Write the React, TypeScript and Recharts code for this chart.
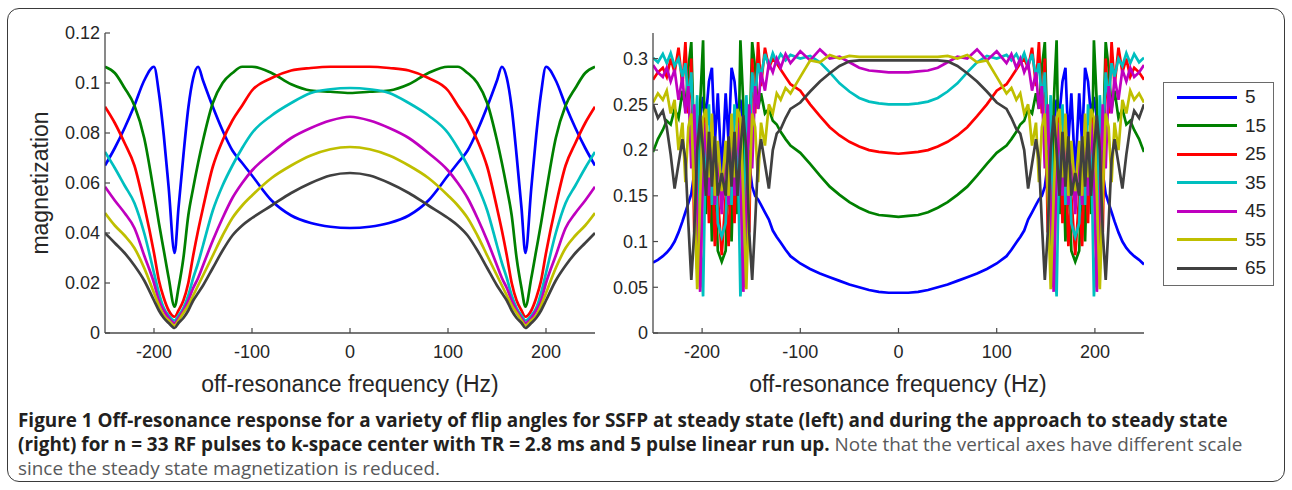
import { LineChart, Line, XAxis, YAxis, Legend } from 'recharts'

const FLIP_ANGLES = ['5', '15', '25', '35', '45', '55', '65']
const COLORS = ['#0000ff', '#008000', '#ff0000', '#00bfbf', '#bf00bf', '#bfbf00', '#404040']
const FREQ_TICKS = [-200, -100, 0, 100, 200]
const LEFT_Y_TICKS = [0, 0.02, 0.04, 0.06, 0.08, 0.1, 0.12]
const RIGHT_Y_TICKS = [0, 0.05, 0.1, 0.15, 0.2, 0.25, 0.3]

// steady state (left panel)
const leftFreq = [
  -250, -240, -230, -220, -210, -200, -195, -190, -185, -179, -175, -170, -165, -160, -155, -150, -140, -130, -120, -110,
  -100, -80, -60, -40, -20, 0, 20, 40, 60, 80, 100,
  110, 120, 130, 140, 150, 155, 160, 165, 170, 175, 179, 185, 190, 195, 200, 210, 220, 230, 240, 250,
]
const left5 = [
  0.067, 0.074, 0.082, 0.091, 0.101, 0.1065, 0.096, 0.079, 0.058, 0.032, 0.05, 0.071, 0.09, 0.102, 0.1065, 0.101, 0.0905, 0.081, 0.073, 0.068,
  0.063, 0.053, 0.047, 0.044, 0.0425, 0.042, 0.0425, 0.044, 0.047, 0.053, 0.063,
  0.068, 0.073, 0.081, 0.0905, 0.101, 0.1065, 0.102, 0.09, 0.071, 0.05, 0.032, 0.058, 0.079, 0.096, 0.1065, 0.101, 0.091, 0.082, 0.074, 0.067,
]
const left15 = [
  0.1065, 0.104, 0.098, 0.091, 0.078, 0.056, 0.044, 0.033, 0.022, 0.0105, 0.018, 0.03, 0.047, 0.058, 0.068, 0.077, 0.092, 0.1, 0.104, 0.1065,
  0.1065, 0.104, 0.0995, 0.097, 0.0965, 0.096, 0.0965, 0.097, 0.0995, 0.104, 0.1065,
  0.1065, 0.104, 0.1, 0.092, 0.077, 0.068, 0.058, 0.047, 0.03, 0.018, 0.0105, 0.022, 0.033, 0.044, 0.056, 0.078, 0.091, 0.098, 0.104, 0.1065,
]
const left25 = [
  0.0905, 0.084, 0.076, 0.067, 0.051, 0.032, 0.021, 0.014, 0.009, 0.0065, 0.009, 0.013, 0.02, 0.031, 0.041, 0.05, 0.0665, 0.077, 0.085, 0.091,
  0.097, 0.102, 0.105, 0.106, 0.1065, 0.1065, 0.1065, 0.106, 0.105, 0.102, 0.097,
  0.091, 0.085, 0.077, 0.0665, 0.05, 0.041, 0.031, 0.02, 0.013, 0.009, 0.0065, 0.009, 0.014, 0.021, 0.032, 0.051, 0.067, 0.076, 0.084, 0.0905,
]
const left35 = [
  0.0724, 0.066, 0.059, 0.052, 0.04, 0.024, 0.016, 0.01, 0.007, 0.005, 0.007, 0.01, 0.015, 0.022, 0.028, 0.035, 0.049, 0.059, 0.067, 0.074,
  0.08, 0.087, 0.092, 0.096, 0.0975, 0.098, 0.0975, 0.096, 0.092, 0.087, 0.08,
  0.074, 0.067, 0.059, 0.049, 0.035, 0.028, 0.022, 0.015, 0.01, 0.007, 0.005, 0.007, 0.01, 0.016, 0.024, 0.04, 0.052, 0.059, 0.066, 0.0724,
]
const left45 = [
  0.0585, 0.053, 0.048, 0.042, 0.031, 0.02, 0.013, 0.009, 0.006, 0.004, 0.006, 0.009, 0.013, 0.018, 0.022, 0.027, 0.037, 0.046, 0.054, 0.06,
  0.065, 0.072, 0.078, 0.082, 0.085, 0.0865, 0.085, 0.082, 0.078, 0.072, 0.065,
  0.06, 0.054, 0.046, 0.037, 0.027, 0.022, 0.018, 0.013, 0.009, 0.006, 0.004, 0.006, 0.009, 0.013, 0.02, 0.031, 0.042, 0.048, 0.053, 0.0585,
]
const left55 = [
  0.048, 0.043, 0.039, 0.034, 0.026, 0.016, 0.011, 0.007, 0.005, 0.003, 0.005, 0.008, 0.011, 0.015, 0.019, 0.023, 0.031, 0.039, 0.046, 0.051,
  0.055, 0.062, 0.067, 0.071, 0.0735, 0.0744, 0.0735, 0.071, 0.067, 0.062, 0.055,
  0.051, 0.046, 0.039, 0.031, 0.023, 0.019, 0.015, 0.011, 0.008, 0.005, 0.003, 0.005, 0.007, 0.011, 0.016, 0.026, 0.034, 0.039, 0.043, 0.048,
]
const left65 = [
  0.04, 0.036, 0.032, 0.027, 0.021, 0.013, 0.009, 0.006, 0.004, 0.002, 0.004, 0.006, 0.009, 0.013, 0.016, 0.019, 0.026, 0.033, 0.039, 0.043,
  0.046, 0.051, 0.056, 0.06, 0.063, 0.064, 0.063, 0.06, 0.056, 0.051, 0.046,
  0.043, 0.039, 0.033, 0.026, 0.019, 0.016, 0.013, 0.009, 0.006, 0.004, 0.002, 0.004, 0.006, 0.009, 0.013, 0.021, 0.027, 0.032, 0.036, 0.04,
]

// approach to steady state (right panel)
const rightFreq = [
  -250, -245, -240, -236, -232, -228, -224, -220, -217, -214, -211, -208, -205, -202, -199, -196, -193, -190, -187, -184,
  -180,
  -176, -173, -170, -167, -164, -161, -158, -155, -152, -149, -146, -143, -140, -136, -132, -128, -124, -120, -115, -110,
  -100, -90, -80, -70, -60, -50, -40, -30, -20, -10, 0, 10, 20, 30, 40, 50, 60, 70, 80, 90, 100,
  110, 115, 120, 124, 128, 132, 136, 140, 143, 146, 149, 152, 155, 158, 161, 164, 167, 170, 173, 176,
  180,
  184, 187, 190, 193, 196, 199, 202, 205, 208, 211, 214, 217, 220, 224, 228, 232, 236, 240, 245, 250,
]
const right5 = [
  0.077, 0.08, 0.084, 0.088, 0.093, 0.1, 0.11, 0.122, 0.132, 0.142, 0.152, 0.175, 0.205, 0.235, 0.258, 0.238, 0.275, 0.29, 0.208, 0.262,
  0.172,
  0.262, 0.208, 0.29, 0.275, 0.24, 0.255, 0.23, 0.2, 0.185, 0.16, 0.15, 0.146, 0.14, 0.132, 0.124, 0.112, 0.105, 0.099, 0.091, 0.084,
  0.076, 0.07, 0.065, 0.061, 0.057, 0.053, 0.05, 0.047, 0.045, 0.044, 0.044, 0.044, 0.045, 0.047, 0.05, 0.053, 0.057, 0.061, 0.065, 0.07, 0.076,
  0.084, 0.091, 0.099, 0.105, 0.112, 0.124, 0.132, 0.14, 0.146, 0.15, 0.16, 0.185, 0.2, 0.23, 0.255, 0.24, 0.275, 0.29, 0.208, 0.262,
  0.172,
  0.262, 0.208, 0.29, 0.275, 0.238, 0.258, 0.235, 0.205, 0.175, 0.152, 0.142, 0.132, 0.122, 0.11, 0.1, 0.093, 0.088, 0.084, 0.08, 0.075,
]
const right15 = [
  0.198, 0.212, 0.222, 0.232, 0.228, 0.245, 0.235, 0.265, 0.245, 0.29, 0.318, 0.2, 0.07, 0.25, 0.32, 0.13, 0.22, 0.1, 0.18, 0.09,
  0.078,
  0.09, 0.18, 0.1, 0.22, 0.13, 0.32, 0.25, 0.07, 0.2, 0.318, 0.29, 0.245, 0.262, 0.24, 0.245, 0.232, 0.228, 0.22, 0.212, 0.205,
  0.197, 0.185, 0.172, 0.16, 0.151, 0.143, 0.137, 0.132, 0.129, 0.128, 0.127, 0.128, 0.129, 0.132, 0.137, 0.143, 0.151, 0.16, 0.172, 0.185, 0.197,
  0.205, 0.212, 0.22, 0.228, 0.232, 0.245, 0.24, 0.262, 0.245, 0.29, 0.318, 0.2, 0.07, 0.25, 0.32, 0.13, 0.22, 0.1, 0.18, 0.09,
  0.078,
  0.09, 0.18, 0.1, 0.22, 0.13, 0.32, 0.25, 0.07, 0.2, 0.318, 0.29, 0.245, 0.265, 0.235, 0.245, 0.228, 0.232, 0.222, 0.212, 0.198,
]
const right25 = [
  0.277, 0.285, 0.29, 0.28, 0.3, 0.285, 0.312, 0.27, 0.318, 0.24, 0.3, 0.11, 0.23, 0.05, 0.2, 0.24, 0.12, 0.2, 0.095, 0.15,
  0.085,
  0.15, 0.095, 0.2, 0.12, 0.24, 0.2, 0.05, 0.23, 0.11, 0.3, 0.24, 0.318, 0.27, 0.312, 0.29, 0.3, 0.295, 0.288, 0.28, 0.272,
  0.265, 0.25, 0.237, 0.225, 0.216, 0.209, 0.204, 0.2, 0.198, 0.197, 0.196, 0.197, 0.198, 0.2, 0.204, 0.209, 0.216, 0.225, 0.237, 0.25, 0.265,
  0.272, 0.28, 0.288, 0.295, 0.3, 0.29, 0.312, 0.27, 0.318, 0.24, 0.3, 0.11, 0.23, 0.05, 0.2, 0.24, 0.12, 0.2, 0.095, 0.15,
  0.085,
  0.15, 0.095, 0.2, 0.12, 0.24, 0.2, 0.05, 0.23, 0.11, 0.3, 0.24, 0.318, 0.27, 0.312, 0.285, 0.3, 0.28, 0.29, 0.285, 0.277,
]
const right35 = [
  0.301, 0.296, 0.305, 0.295, 0.306, 0.292, 0.3, 0.28, 0.295, 0.255, 0.285, 0.2, 0.26, 0.1, 0.04, 0.22, 0.25, 0.14, 0.21, 0.12,
  0.105,
  0.12, 0.21, 0.14, 0.25, 0.22, 0.04, 0.1, 0.26, 0.2, 0.285, 0.255, 0.295, 0.28, 0.305, 0.292, 0.306, 0.296, 0.305, 0.298, 0.304,
  0.3, 0.303, 0.296, 0.285, 0.273, 0.264, 0.257, 0.253, 0.251, 0.25, 0.25, 0.25, 0.251, 0.253, 0.257, 0.264, 0.273, 0.285, 0.296, 0.303, 0.3,
  0.304, 0.298, 0.305, 0.296, 0.306, 0.292, 0.305, 0.28, 0.295, 0.255, 0.285, 0.2, 0.26, 0.1, 0.04, 0.22, 0.25, 0.14, 0.21, 0.12,
  0.105,
  0.12, 0.21, 0.14, 0.25, 0.22, 0.04, 0.1, 0.26, 0.2, 0.285, 0.255, 0.295, 0.28, 0.3, 0.292, 0.306, 0.295, 0.305, 0.296, 0.301,
]
const right45 = [
  0.293, 0.285, 0.28, 0.29, 0.275, 0.288, 0.255, 0.28, 0.24, 0.27, 0.18, 0.25, 0.13, 0.045, 0.18, 0.23, 0.15, 0.23, 0.14, 0.2,
  0.13,
  0.2, 0.14, 0.23, 0.15, 0.23, 0.18, 0.045, 0.13, 0.25, 0.18, 0.27, 0.245, 0.285, 0.265, 0.295, 0.285, 0.3, 0.29, 0.305, 0.295,
  0.308, 0.298, 0.31, 0.3, 0.302, 0.296, 0.29, 0.287, 0.286, 0.285, 0.285, 0.285, 0.286, 0.287, 0.29, 0.296, 0.302, 0.3, 0.31, 0.298, 0.308,
  0.295, 0.305, 0.29, 0.3, 0.285, 0.295, 0.265, 0.285, 0.245, 0.27, 0.18, 0.25, 0.13, 0.045, 0.18, 0.23, 0.15, 0.23, 0.14, 0.2,
  0.13,
  0.2, 0.14, 0.23, 0.15, 0.23, 0.18, 0.045, 0.13, 0.25, 0.18, 0.27, 0.24, 0.28, 0.255, 0.288, 0.275, 0.29, 0.28, 0.285, 0.293,
]
const right55 = [
  0.252, 0.262, 0.255, 0.265, 0.24, 0.255, 0.2, 0.23, 0.165, 0.225, 0.24, 0.15, 0.048, 0.15, 0.235, 0.245, 0.17, 0.24, 0.15, 0.21,
  0.155,
  0.21, 0.15, 0.24, 0.17, 0.245, 0.235, 0.15, 0.048, 0.15, 0.24, 0.225, 0.165, 0.23, 0.205, 0.25, 0.24, 0.262, 0.255, 0.268, 0.262,
  0.28, 0.298, 0.296, 0.304, 0.3, 0.303, 0.302, 0.302, 0.302, 0.302, 0.302, 0.302, 0.302, 0.302, 0.302, 0.303, 0.3, 0.304, 0.296, 0.298, 0.28,
  0.262, 0.268, 0.255, 0.262, 0.24, 0.25, 0.205, 0.23, 0.165, 0.225, 0.24, 0.15, 0.048, 0.15, 0.235, 0.245, 0.17, 0.24, 0.15, 0.21,
  0.155,
  0.21, 0.15, 0.24, 0.17, 0.245, 0.235, 0.15, 0.048, 0.15, 0.24, 0.225, 0.165, 0.23, 0.2, 0.255, 0.24, 0.265, 0.255, 0.262, 0.252,
]
const right65 = [
  0.25, 0.235, 0.243, 0.225, 0.195, 0.158, 0.185, 0.212, 0.19, 0.12, 0.058, 0.11, 0.2, 0.238, 0.2, 0.15, 0.22, 0.16, 0.215, 0.15,
  0.175,
  0.15, 0.215, 0.16, 0.22, 0.15, 0.2, 0.238, 0.2, 0.11, 0.058, 0.12, 0.19, 0.212, 0.185, 0.158, 0.2, 0.218, 0.223, 0.235, 0.245,
  0.252, 0.264, 0.275, 0.284, 0.292, 0.297, 0.298, 0.298, 0.298, 0.298, 0.298, 0.298, 0.298, 0.298, 0.298, 0.297, 0.292, 0.284, 0.275, 0.264, 0.252,
  0.245, 0.235, 0.223, 0.218, 0.2, 0.158, 0.185, 0.212, 0.19, 0.12, 0.058, 0.11, 0.2, 0.238, 0.2, 0.15, 0.22, 0.16, 0.215, 0.15,
  0.175,
  0.15, 0.215, 0.16, 0.22, 0.15, 0.2, 0.238, 0.2, 0.11, 0.058, 0.12, 0.19, 0.212, 0.185, 0.158, 0.195, 0.225, 0.243, 0.235, 0.25,
]

const leftSeries = [left5, left15, left25, left35, left45, left55, left65]
const rightSeries = [right5, right15, right25, right35, right45, right55, right65]

function buildRows(freq: number[], series: number[][]) {
  return freq.map((f, i) => {
    const row: Record<string, number> = { f }
    series.forEach((s, k) => {
      row['a' + FLIP_ANGLES[k]] = s[i]
    })
    return row
  })
}

const leftRows = buildRows(leftFreq, leftSeries)
const rightRows = buildRows(rightFreq, rightSeries)

const FONT = "'Liberation Sans', Arial, sans-serif"
const AXIS_COLOR = '#4a4a4a'
const TICK_STYLE = { fontFamily: FONT, fontSize: 18, fill: '#262626' }
const fmt = (v: number) => String(Number(v.toFixed(3)))

// legend keeps the plotting order (5 ... 65)
function FlipLegend() {
  return (
    <div
      style={{
        boxSizing: 'border-box',
        width: 111,
        height: 204,
        border: '1.5px solid #6a6a6a',
        background: '#fff',
      }}
    >
      {FLIP_ANGLES.map((a, k) => (
        <div key={a} style={{ display: 'flex', alignItems: 'center', height: 28.5 }}>
          <span style={{ marginLeft: 13, width: 60, height: 3, background: COLORS[k] }} />
          <span style={{ marginLeft: 8, fontFamily: FONT, fontSize: 19, color: '#262626' }}>{a}</span>
        </div>
      ))}
    </div>
  )
}

function axes(yDomain: number[], yTicks: number[], yWidth: number) {
  const common = {
    stroke: AXIS_COLOR,
    axisLine: { stroke: AXIS_COLOR, strokeWidth: 1.3 },
    tickLine: { stroke: AXIS_COLOR, strokeWidth: 1.2 },
    tickSize: -5,
    interval: 0 as const,
    allowDataOverflow: true,
  }
  return [
    <XAxis key="xb" dataKey="f" type="number" domain={[-250, 250]} ticks={FREQ_TICKS} height={30} tickMargin={17} tick={TICK_STYLE} {...common} />,
    <XAxis key="xt" xAxisId="top" orientation="top" dataKey="f" type="number" domain={[-250, 250]} ticks={FREQ_TICKS} height={0} tick={false} {...common} />,
    <YAxis key="yl" type="number" domain={yDomain} ticks={yTicks} width={yWidth} tickMargin={10} tick={TICK_STYLE} tickFormatter={fmt} {...common} />,
    <YAxis key="yr" yAxisId="right" orientation="right" type="number" domain={yDomain} ticks={yTicks} width={0} tick={false} {...common} />,
  ]
}

function lines(type: 'monotone' | 'linear') {
  return FLIP_ANGLES.map((a, k) => (
    <Line
      key={a}
      dataKey={'a' + a}
      name={a}
      type={type}
      stroke={COLORS[k]}
      strokeWidth={2.7}
      dot={false}
      activeDot={false}
      isAnimationActive={false}
    />
  ))
}

const titleStyle = {
  position: 'absolute' as const,
  fontFamily: FONT,
  fontSize: 23,
  color: '#262626',
  whiteSpace: 'nowrap' as const,
  transform: 'translate(-50%, -50%)',
}

export default function App() {
  return (
    <div style={{ position: 'absolute', left: 0, top: 0, width: 1292, height: 490, background: '#fff', overflow: 'hidden' }}>
      <div
        style={{
          position: 'absolute',
          left: 7,
          top: 8,
          width: 1278,
          height: 474,
          boxSizing: 'border-box',
          border: '1.5px solid #3a3a3a',
          borderRadius: 12,
        }}
      />
      <div style={{ position: 'absolute', left: 0, top: 0 }}>
        <LineChart width={600} height={400} data={leftRows} margin={{ top: 33, right: 5, bottom: 37, left: 10 }}>
          {axes([0, 0.12], LEFT_Y_TICKS, 95)}
          {lines('monotone')}
        </LineChart>
      </div>
      <div style={{ position: 'absolute', left: 560, top: 0 }}>
        <LineChart width={732} height={400} data={rightRows} margin={{ top: 33, right: 148, bottom: 37, left: 13 }}>
          {axes([0, 0.328], RIGHT_Y_TICKS, 80)}
          {lines('linear')}
          <Legend
            layout="vertical"
            align="center"
            verticalAlign="middle"
            wrapperStyle={{ left: 603, top: 82, width: 111, height: 204 }}
            content={() => <FlipLegend />}
          />
        </LineChart>
      </div>
      <div style={{ ...titleStyle, left: 40, top: 183, transform: 'translate(-50%, -50%) rotate(-90deg)' }}>magnetization</div>
      <div style={{ ...titleStyle, left: 350, top: 384 }}>off-resonance frequency (Hz)</div>
      <div style={{ ...titleStyle, left: 898, top: 384 }}>off-resonance frequency (Hz)</div>
      <div
        style={{
          position: 'absolute',
          left: 18,
          top: 408,
          fontFamily: "'Open Sans', 'Noto Sans', sans-serif",
          fontSize: 18.9,
          lineHeight: '24px',
          color: '#58595b',
          whiteSpace: 'nowrap',
        }}
      >
        <div>
          <b style={{ color: '#231f20' }}>
            Figure 1 Off-resonance response for a variety of flip angles for SSFP at steady state (left) and during the approach to steady state
          </b>
        </div>
        <div>
          <b style={{ color: '#231f20' }}>
            (right) for n = 33 RF pulses to k-space center with TR = 2.8 ms and 5 pulse linear run up.
          </b>{' '}
          Note that the vertical axes have different scale
        </div>
        <div>since the steady state magnetization is reduced.</div>
      </div>
    </div>
  )
}
